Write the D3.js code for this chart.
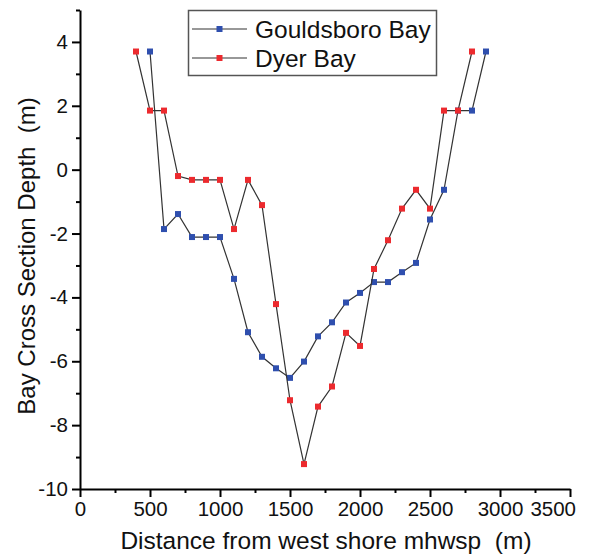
<!DOCTYPE html>
<html>
<head>
<meta charset="utf-8">
<script src="https://cdn.jsdelivr.net/npm/d3@7"></script>
<style>
  body { margin: 0; background: #fff; }
  svg { display: block; font-family: "Liberation Sans", Arial, sans-serif; }
  text { white-space: pre; }
</style>
</head>
<body>
<svg id="chart" width="590" height="556"></svg>
<script>
// distances (m) from the west shore
const gouldsboroX = [500, 600, 700, 800, 900, 1000, 1100, 1200, 1300, 1400, 1500, 1600, 1700, 1800, 1900, 2000, 2100, 2200, 2300, 2400, 2500, 2600, 2700, 2800, 2900];
const gouldsboroDepth = [3.7, -1.86, -1.39, -2.11, -2.11, -2.11, -3.42, -5.09, -5.86, -6.22, -6.52, -6.01, -5.22, -4.78, -4.16, -3.86, -3.52, -3.52, -3.21, -2.92, -1.56, -0.63, 1.85, 1.85, 3.7];

const dyerX = [400, 500, 600, 700, 800, 900, 1000, 1100, 1200, 1300, 1400, 1500, 1600, 1700, 1800, 1900, 2000, 2100, 2200, 2300, 2400, 2500, 2600, 2700, 2800];
const dyerDepth = [3.7, 1.85, 1.85, -0.2, -0.32, -0.32, -0.32, -1.86, -0.32, -1.11, -4.21, -7.22, -9.22, -7.42, -6.79, -5.11, -5.52, -3.11, -2.21, -1.22, -0.63, -1.22, 1.85, 1.85, 3.7];

const seriesNames = ['Gouldsboro Bay', 'Dyer Bay'];
const seriesColors = ['#2f4fae', '#ec2a2e'];

const xTicks = d3.range(0, 3501, 250);
const yTicks = d3.range(-10, 6, 1);

const svg = d3.select('#chart');
const x = d3.scaleLinear().domain([0, 3500]).range([80, 570]);
const y = d3.scaleLinear().domain([-10, 5]).range([489, 10]);
const fmt = d => String(d); // plain hyphen, no thousands separator

// x axis
const gx = svg.append('g')
  .attr('transform', `translate(0,${y(-10)})`)
  .call(d3.axisBottom(x).tickValues(xTicks).tickFormat(fmt).tickSize(8).tickSizeOuter(0).tickPadding(4));
gx.selectAll('.tick').each(function(d) {
  const t = d3.select(this);
  if (d % 500 !== 0) {
    t.select('line').attr('y2', 4);
    t.select('text').remove();
  }
});

// y axis
const gy = svg.append('g')
  .attr('transform', `translate(${x(0)},0)`)
  .call(d3.axisLeft(y).tickValues(yTicks).tickFormat(fmt).tickSize(8).tickSizeOuter(0).tickPadding(4));
gy.selectAll('.tick').each(function(d) {
  const t = d3.select(this);
  if (d % 2 !== 0) {
    t.select('line').attr('x2', -4);
    t.select('text').remove();
  }
});

svg.selectAll('.domain').attr('stroke', '#000').attr('stroke-width', 2);
svg.selectAll('.tick line').attr('stroke', '#000').attr('stroke-width', 2);
svg.selectAll('.tick text')
  .attr('fill', '#111')
  .style('font-size', '20.5px')
  .style('font-family', '"Liberation Sans", Arial, sans-serif');

// keep the last x label inside the frame
gx.selectAll('.tick text').each(function() {
  const box = this.getBBox();
  const tx = +this.parentNode.getAttribute('transform').match(/translate\(([^,]+)/)[1];
  const over = tx + box.x + box.width - 576;
  if (over > 0) d3.select(this).attr('dx', -over);
});

// axis titles
svg.append('text')
  .attr('x', 326)
  .attr('y', 549)
  .attr('text-anchor', 'middle')
  .style('font-size', '24.5px')
  .attr('fill', '#111')
  .text('Distance from west shore mhwsp  (m)');

svg.append('text')
  .attr('transform', 'translate(35,256) rotate(-90)')
  .attr('text-anchor', 'middle')
  .style('font-size', '24px')
  .attr('fill', '#111')
  .text('Bay Cross Section Depth  (m)');

// series
const series = [
  d3.zip(gouldsboroX, gouldsboroDepth),
  d3.zip(dyerX, dyerDepth)
];
const line = d3.line().x(d => x(d[0])).y(d => y(d[1]));
const size = 6;

series.forEach((pts, i) => {
  const g = svg.append('g');
  g.append('path')
    .attr('d', line(pts))
    .attr('fill', 'none')
    .attr('stroke', '#333')
    .attr('stroke-width', 1.2);
  g.selectAll('rect')
    .data(pts)
    .enter()
    .append('rect')
    .attr('x', d => x(d[0]) - size / 2)
    .attr('y', d => y(d[1]) - size / 2)
    .attr('width', size)
    .attr('height', size)
    .attr('fill', seriesColors[i]);
});

// legend
const legend = svg.append('g');
legend.append('rect')
  .attr('x', 188.5).attr('y', 10.5)
  .attr('width', 248).attr('height', 65)
  .attr('fill', '#fff')
  .attr('stroke', '#555')
  .attr('stroke-width', 1.5);

seriesNames.forEach((name, i) => {
  const cy = 29 + i * 29;
  legend.append('line')
    .attr('x1', 192).attr('x2', 247)
    .attr('y1', cy).attr('y2', cy)
    .attr('stroke', '#333').attr('stroke-width', 1.2);
  legend.append('rect')
    .attr('x', 219.5 - size / 2).attr('y', cy - size / 2)
    .attr('width', size).attr('height', size)
    .attr('fill', seriesColors[i]);
  legend.append('text')
    .attr('x', 255).attr('y', cy + 8.5)
    .style('font-size', '24.5px')
    .attr('fill', '#111')
    .text(name);
});
</script>
</body>
</html>
